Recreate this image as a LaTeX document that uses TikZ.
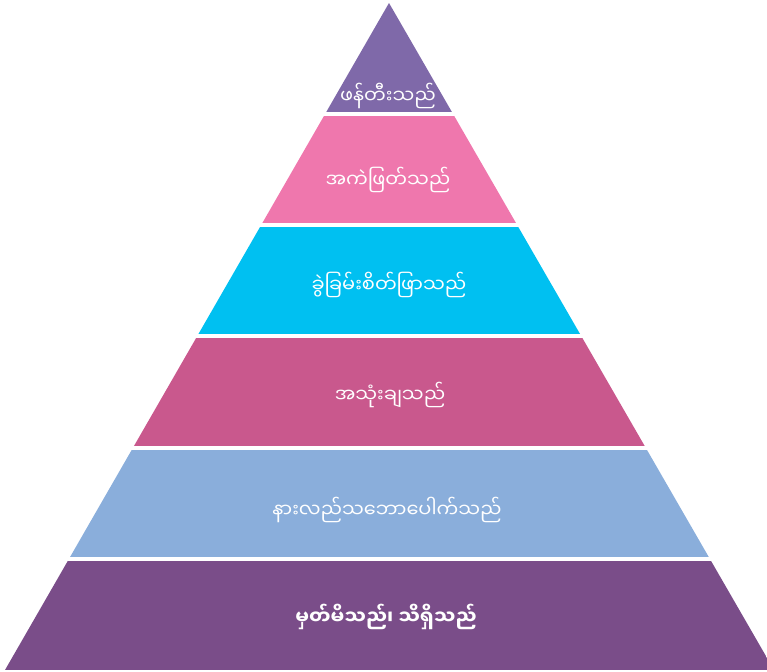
\documentclass[tikz,border=0pt]{standalone}
\usepackage{fontspec}
\newfontfamily\myfont[Script=Myanmar]{Noto Sans Myanmar UI}
\definecolor{cA}{HTML}{7F69A9}
\definecolor{cB}{HTML}{EF77AD}
\definecolor{cC}{HTML}{00C0F1}
\definecolor{cD}{HTML}{C9588D}
\definecolor{cE}{HTML}{8AAEDB}
\definecolor{cF}{HTML}{7A4D89}
\tikzset{lbl/.style={text=white,font=\myfont\fontsize{14.5}{17}\selectfont,inner sep=0pt}}
\begin{document}
\begin{tikzpicture}[x=0.75pt,y=-0.75pt]
\useasboundingbox (0,0) rectangle (767,671);
\coordinate (apex) at (389,3);
\coordinate (bl) at (5,670);
\coordinate (br) at (774,670);
\begin{scope}
\clip (apex) -- (bl) -- (br) -- cycle;
\fill[cA] (0,0) rectangle (780,112);
\fill[cB] (0,116) rectangle (780,223);
\fill[cC] (0,227) rectangle (780,334);
\fill[cD] (0,338) rectangle (780,446);
\fill[cE] (0,450) rectangle (780,557);
\fill[cF] (0,561) rectangle (780,670);
\end{scope}
\node[lbl] (l1) at (388,96) {ဖန်တီးသည်};
\node[lbl] (l2) at (388,180) {အကဲဖြတ်သည်};
\node[lbl] (l3) at (389,285) {ခွဲခြမ်းစိတ်ဖြာသည်};
\node[lbl] (l4) at (390,395) {အသုံးချသည်};
\node[lbl] (l5) at (387,510) {နားလည်သဘောပေါက်သည်};
\node[lbl,font=\myfont\bfseries\fontsize{14.5}{17}\selectfont] (l6) at (386,617) {မှတ်မိသည်၊ သိရှိသည်};
\end{tikzpicture}
\end{document}
